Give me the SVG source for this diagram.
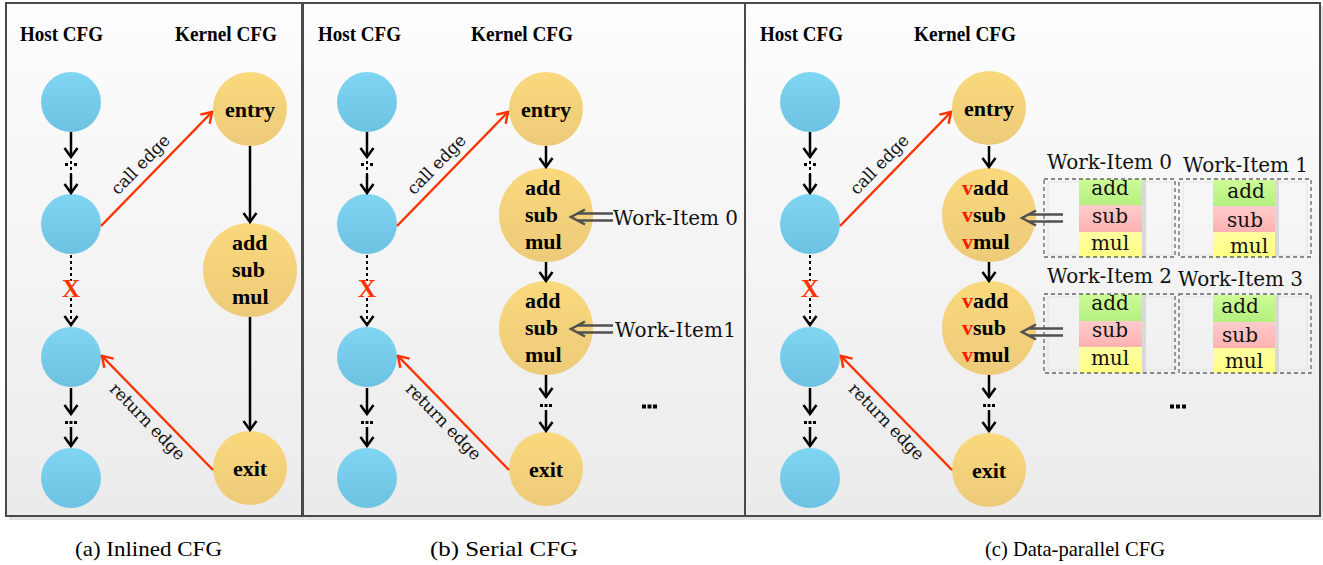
<svg xmlns="http://www.w3.org/2000/svg" width="1323" height="565" viewBox="0 0 1323 565">
  <defs>
    <linearGradient id="panelBg" x1="0" y1="0" x2="0" y2="1">
      <stop offset="0" stop-color="#fdfdfd"/>
      <stop offset="1" stop-color="#ebebeb"/>
    </linearGradient>
    <linearGradient id="hostFill" x1="0" y1="0" x2="0" y2="1">
      <stop offset="0" stop-color="#80d5f3"/>
      <stop offset="1" stop-color="#6dc2e2"/>
    </linearGradient>
    <linearGradient id="kernFill" x1="0" y1="0" x2="0" y2="1">
      <stop offset="0" stop-color="#fad97d"/>
      <stop offset="1" stop-color="#edca79"/>
    </linearGradient>
    <linearGradient id="gAdd" x1="0" y1="0" x2="0" y2="1">
      <stop offset="0" stop-color="#cdfc96"/>
      <stop offset="1" stop-color="#b5ef80"/>
    </linearGradient>
    <linearGradient id="gSub" x1="0" y1="0" x2="0" y2="1">
      <stop offset="0" stop-color="#ffcccc"/>
      <stop offset="1" stop-color="#ffb1b1"/>
    </linearGradient>
    <linearGradient id="gMul" x1="0" y1="0" x2="0" y2="1">
      <stop offset="0" stop-color="#ffffa2"/>
      <stop offset="1" stop-color="#ffff82"/>
    </linearGradient>
    <marker id="ah" viewBox="-12 -9 14 18" refX="0" refY="0" markerWidth="14" markerHeight="18" markerUnits="userSpaceOnUse" orient="auto">
      <path d="M-9,-6.5 L0,0 L-9,6.5" fill="none" stroke="#000" stroke-width="2.5"/>
    </marker>
    <marker id="ahRed" viewBox="-12 -9 14 18" refX="0" refY="0" markerWidth="14" markerHeight="18" markerUnits="userSpaceOnUse" orient="auto">
      <path d="M-10,-6.5 L0,0 L-10,6.5" fill="none" stroke="#ff3300" stroke-width="2.5"/>
    </marker>
  </defs>
  <style>
    .hd{font-family:"Liberation Serif","Times New Roman","DejaVu Serif",serif;font-weight:bold;font-size:21px;fill:#000}
    .nt{font-family:"Liberation Serif","Times New Roman","DejaVu Serif",serif;font-weight:bold;font-size:22px;fill:#000}
    .rg{font-family:"DejaVu Serif","Liberation Serif","Times New Roman",serif;font-size:20px;fill:#111}
    .lbl{font-family:"DejaVu Serif","Liberation Serif","Times New Roman",serif;font-size:17px;fill:#111}
    .cap{font-family:"Liberation Serif","Times New Roman","DejaVu Serif",serif;font-size:22px;fill:#000}
    .xm{font-family:"Liberation Serif","Times New Roman","DejaVu Serif",serif;font-weight:bold;font-size:25px;fill:#ff3300}
    .host{fill:url(#hostFill)}
    .kern{fill:url(#kernFill)}
    .panel{fill:url(#panelBg);stroke:#4a4a4a;stroke-width:2}
    .shadow{fill:#cfcfcf;opacity:.6}
    .flow{stroke:#000;stroke-width:2.5;fill:none}
    .dash{stroke:#000;stroke-width:2;stroke-dasharray:3 3;fill:none}
    .call{stroke:#ff3300;stroke-width:2.5;fill:none}
    .wi{stroke:#505050;stroke-width:2.5;fill:none}
    .box{fill:none;stroke:#666;stroke-width:1.3;stroke-dasharray:4 3}
    .inner{fill:none;stroke:#e2e2e2;stroke-width:1}
    .red{fill:#ff1a00}
    .dot{fill:#000}
    .bshadow{fill:#d9d9d9}
  </style>

  <!-- panel frames -->
  <g id="panels">
    <rect class="shadow" x="9" y="6" width="296" height="514"/>
    <rect class="shadow" x="306" y="6" width="442" height="514"/>
    <rect class="shadow" x="748" y="6" width="575" height="514"/>
    <rect class="panel" x="6" y="3" width="296" height="513"/>
    <rect class="panel" x="303" y="3" width="442" height="513"/>
    <rect class="panel" x="745" y="3" width="575" height="513"/>
  </g>

  <!-- column headings -->
  <g id="headings">
    <text class="hd" x="20" y="41" textLength="83" lengthAdjust="spacingAndGlyphs">Host CFG</text>
    <text class="hd" x="175" y="41" textLength="102" lengthAdjust="spacingAndGlyphs">Kernel CFG</text>
    <text class="hd" x="318" y="41" textLength="83" lengthAdjust="spacingAndGlyphs">Host CFG</text>
    <text class="hd" x="471" y="41" textLength="102" lengthAdjust="spacingAndGlyphs">Kernel CFG</text>
    <text class="hd" x="760" y="41" textLength="83" lengthAdjust="spacingAndGlyphs">Host CFG</text>
    <text class="hd" x="914" y="41" textLength="102" lengthAdjust="spacingAndGlyphs">Kernel CFG</text>
  </g>

  <!-- panel (a): inlined -->
  <g id="a-host-1"><circle class="host" cx="71" cy="102" r="30"/></g>
  <g id="a-host-2"><circle class="host" cx="71" cy="224" r="30"/></g>
  <g id="a-host-3"><circle class="host" cx="71" cy="357" r="30"/></g>
  <g id="a-host-4"><circle class="host" cx="71" cy="478" r="30"/></g>
  <g id="a-entry"><circle class="kern" cx="250" cy="109" r="37"/><text class="nt" x="250" y="117" text-anchor="middle">entry</text></g>
  <g id="a-body">
    <circle class="kern" cx="250" cy="270" r="47"/>
    <text class="nt" x="232" y="250">add</text>
    <text class="nt" x="232" y="277">sub</text>
    <text class="nt" x="232" y="304">mul</text>
  </g>
  <g id="a-exit"><circle class="kern" cx="250" cy="468" r="37"/><text class="nt" x="250" y="476" text-anchor="middle">exit</text></g>

  <!-- panel (b): serial -->
  <g id="b-host-1"><circle class="host" cx="367" cy="102" r="30"/></g>
  <g id="b-host-2"><circle class="host" cx="367" cy="224" r="30"/></g>
  <g id="b-host-3"><circle class="host" cx="367" cy="357" r="30"/></g>
  <g id="b-host-4"><circle class="host" cx="367" cy="478" r="30"/></g>
  <g id="b-entry"><circle class="kern" cx="546" cy="109" r="37"/><text class="nt" x="546" y="117" text-anchor="middle">entry</text></g>
  <g id="b-body-0">
    <circle class="kern" cx="546" cy="215" r="47"/>
    <text class="nt" x="525" y="195">add</text>
    <text class="nt" x="525" y="222">sub</text>
    <text class="nt" x="525" y="249">mul</text>
  </g>
  <g id="b-body-1">
    <circle class="kern" cx="546" cy="328" r="47"/>
    <text class="nt" x="525" y="308">add</text>
    <text class="nt" x="525" y="335">sub</text>
    <text class="nt" x="525" y="362">mul</text>
  </g>
  <g id="b-exit"><circle class="kern" cx="546" cy="469" r="37"/><text class="nt" x="546" y="477" text-anchor="middle">exit</text></g>
  <g id="b-workitems">
    <text class="rg" x="613" y="225" textLength="125">Work-Item 0</text>
    <text class="rg" x="615" y="337" textLength="121">Work-Item1</text>
    <rect class="dot" x="642" y="404.5" width="4" height="4"/><rect class="dot" x="647.5" y="404.5" width="4" height="4"/><rect class="dot" x="653" y="404.5" width="4" height="4"/>
  </g>

  <!-- panel (c): data-parallel -->
  <g id="c-host-1"><circle class="host" cx="810" cy="102" r="30"/></g>
  <g id="c-host-2"><circle class="host" cx="810" cy="224" r="30"/></g>
  <g id="c-host-3"><circle class="host" cx="810" cy="357" r="30"/></g>
  <g id="c-host-4"><circle class="host" cx="810" cy="478" r="30"/></g>
  <g id="c-entry"><circle class="kern" cx="989" cy="108" r="37"/><text class="nt" x="989" y="116" text-anchor="middle">entry</text></g>
  <g id="c-body-0">
    <circle class="kern" cx="989" cy="215" r="47"/>
    <text class="nt" x="962" y="195"><tspan class="red">v</tspan>add</text>
    <text class="nt" x="962" y="222"><tspan class="red">v</tspan>sub</text>
    <text class="nt" x="962" y="249"><tspan class="red">v</tspan>mul</text>
  </g>
  <g id="c-body-1">
    <circle class="kern" cx="989" cy="328" r="47"/>
    <text class="nt" x="962" y="308"><tspan class="red">v</tspan>add</text>
    <text class="nt" x="962" y="335"><tspan class="red">v</tspan>sub</text>
    <text class="nt" x="962" y="362"><tspan class="red">v</tspan>mul</text>
  </g>
  <g id="c-exit"><circle class="kern" cx="989" cy="470" r="37"/><text class="nt" x="989" y="478" text-anchor="middle">exit</text></g>

  <!-- work-item lanes -->
  <g id="wi-0">
    <text class="rg" x="1047" y="169" textLength="125">Work-Item 0</text>
    <rect class="inner" x="1048" y="182" width="124" height="73"/>
    <rect class="bshadow" x="1142" y="179" width="4" height="78"/>
    <rect x="1079" y="179" width="63" height="26" fill="url(#gAdd)"/>
    <rect x="1079" y="205" width="63" height="27" fill="url(#gSub)"/>
    <rect x="1079" y="232" width="63" height="25" fill="url(#gMul)"/>
    <text class="rg" x="1110" y="195" text-anchor="middle">add</text>
    <text class="rg" x="1110" y="223" text-anchor="middle">sub</text>
    <text class="rg" x="1110" y="250" text-anchor="middle">mul</text>
    <rect class="box" x="1044" y="179" width="131" height="78"/>
  </g>
  <g id="wi-1">
    <text class="rg" x="1183" y="172" textLength="125">Work-Item 1</text>
    <rect class="inner" x="1183" y="182" width="124" height="73"/>
    <rect class="bshadow" x="1275" y="180" width="4" height="77"/>
    <rect x="1213" y="180" width="62" height="26" fill="url(#gAdd)"/>
    <rect x="1213" y="206" width="62" height="26" fill="url(#gSub)"/>
    <rect x="1213" y="232" width="62" height="25" fill="url(#gMul)"/>
    <text class="rg" x="1246" y="198" text-anchor="middle">add</text>
    <text class="rg" x="1245" y="227" text-anchor="middle">sub</text>
    <text class="rg" x="1249" y="253" text-anchor="middle">mul</text>
    <rect class="box" x="1179" y="179" width="132" height="78"/>
  </g>
  <g id="wi-2">
    <text class="rg" x="1047" y="283" textLength="125">Work-Item 2</text>
    <rect class="inner" x="1048" y="297" width="124" height="73"/>
    <rect class="bshadow" x="1142" y="294" width="4" height="79"/>
    <rect x="1079" y="294" width="63" height="27" fill="url(#gAdd)"/>
    <rect x="1079" y="321" width="63" height="26" fill="url(#gSub)"/>
    <rect x="1079" y="347" width="63" height="26" fill="url(#gMul)"/>
    <text class="rg" x="1110" y="310" text-anchor="middle">add</text>
    <text class="rg" x="1110" y="337" text-anchor="middle">sub</text>
    <text class="rg" x="1110" y="365" text-anchor="middle">mul</text>
    <rect class="box" x="1044" y="294" width="131" height="79"/>
  </g>
  <g id="wi-3">
    <text class="rg" x="1178" y="286" textLength="125">Work-Item 3</text>
    <rect class="inner" x="1183" y="297" width="124" height="73"/>
    <rect class="bshadow" x="1275" y="295" width="4" height="78"/>
    <rect x="1213" y="295" width="62" height="27" fill="url(#gAdd)"/>
    <rect x="1213" y="322" width="62" height="26" fill="url(#gSub)"/>
    <rect x="1213" y="348" width="62" height="25" fill="url(#gMul)"/>
    <text class="rg" x="1240" y="313" text-anchor="middle">add</text>
    <text class="rg" x="1240" y="342" text-anchor="middle">sub</text>
    <text class="rg" x="1244" y="368" text-anchor="middle">mul</text>
    <rect class="box" x="1179" y="294" width="132" height="79"/>
  </g>
  <g id="c-more">
    <rect class="dot" x="1170" y="404.5" width="4" height="4"/><rect class="dot" x="1176" y="404.5" width="4" height="4"/><rect class="dot" x="1182" y="404.5" width="4" height="4"/>
  </g>

  <!-- connectors, drawn above the nodes -->
  <g id="connectors">
    <!-- host columns -->
    <g id="host-flow-a">
      <line class="flow" x1="71" y1="132" x2="71" y2="157" marker-end="url(#ah)"/>
      <line class="dash" x1="71" y1="161" x2="71" y2="174" stroke-width="3" stroke-dasharray="2.5 2.5"/>
      <rect class="dot" x="65" y="163" width="3" height="3"/><rect class="dot" x="74" y="163" width="3" height="3"/>
      <line class="flow" x1="71" y1="174" x2="71" y2="193" marker-end="url(#ah)"/>
      <line class="dash" x1="71" y1="255" x2="71" y2="281"/>
      <line class="dash" x1="71" y1="298" x2="71" y2="325" marker-end="url(#ah)"/>
      <line class="flow" x1="71" y1="388" x2="71" y2="414" marker-end="url(#ah)"/>
      <rect class="dot" x="65" y="421" width="3" height="3"/><rect class="dot" x="69.5" y="421" width="3" height="3"/><rect class="dot" x="74" y="421" width="3" height="3"/>
      <line class="flow" x1="71" y1="427" x2="71" y2="446" marker-end="url(#ah)"/>
    </g>
    <g id="host-flow-b">
      <line class="flow" x1="367" y1="132" x2="367" y2="157" marker-end="url(#ah)"/>
      <line class="dash" x1="367" y1="161" x2="367" y2="174" stroke-width="3" stroke-dasharray="2.5 2.5"/>
      <rect class="dot" x="361" y="163" width="3" height="3"/><rect class="dot" x="370" y="163" width="3" height="3"/>
      <line class="flow" x1="367" y1="174" x2="367" y2="193" marker-end="url(#ah)"/>
      <line class="dash" x1="367" y1="255" x2="367" y2="281"/>
      <line class="dash" x1="367" y1="298" x2="367" y2="325" marker-end="url(#ah)"/>
      <line class="flow" x1="367" y1="388" x2="367" y2="414" marker-end="url(#ah)"/>
      <rect class="dot" x="361" y="421" width="3" height="3"/><rect class="dot" x="365.5" y="421" width="3" height="3"/><rect class="dot" x="370" y="421" width="3" height="3"/>
      <line class="flow" x1="367" y1="427" x2="367" y2="446" marker-end="url(#ah)"/>
    </g>
    <g id="host-flow-c">
      <line class="flow" x1="810" y1="132" x2="810" y2="157" marker-end="url(#ah)"/>
      <line class="dash" x1="810" y1="161" x2="810" y2="174" stroke-width="3" stroke-dasharray="2.5 2.5"/>
      <rect class="dot" x="804" y="163" width="3" height="3"/><rect class="dot" x="813" y="163" width="3" height="3"/>
      <line class="flow" x1="810" y1="174" x2="810" y2="193" marker-end="url(#ah)"/>
      <line class="dash" x1="810" y1="255" x2="810" y2="281"/>
      <line class="dash" x1="810" y1="298" x2="810" y2="325" marker-end="url(#ah)"/>
      <line class="flow" x1="810" y1="388" x2="810" y2="414" marker-end="url(#ah)"/>
      <rect class="dot" x="804" y="421" width="3" height="3"/><rect class="dot" x="808.5" y="421" width="3" height="3"/><rect class="dot" x="813" y="421" width="3" height="3"/>
      <line class="flow" x1="810" y1="427" x2="810" y2="446" marker-end="url(#ah)"/>
    </g>
    <!-- broken host edges -->
    <text class="xm" x="71" y="297" text-anchor="middle">X</text>
    <text class="xm" x="367" y="297" text-anchor="middle">X</text>
    <text class="xm" x="810" y="297" text-anchor="middle">X</text>

    <!-- kernel columns -->
    <g id="kernel-flow-a">
      <line class="flow" x1="250" y1="146" x2="250" y2="222" marker-end="url(#ah)"/>
      <line class="flow" x1="250" y1="317" x2="250" y2="430" marker-end="url(#ah)"/>
    </g>
    <g id="kernel-flow-b">
      <line class="flow" x1="546" y1="146" x2="546" y2="167" marker-end="url(#ah)"/>
      <line class="flow" x1="546" y1="262" x2="546" y2="281" marker-end="url(#ah)"/>
      <line class="flow" x1="546" y1="375" x2="546" y2="397" marker-end="url(#ah)"/>
      <rect class="dot" x="540" y="404" width="3" height="3"/><rect class="dot" x="544.5" y="404" width="3" height="3"/><rect class="dot" x="549" y="404" width="3" height="3"/>
      <line class="flow" x1="546" y1="410" x2="546" y2="431" marker-end="url(#ah)"/>
    </g>
    <g id="kernel-flow-c">
      <line class="flow" x1="989" y1="146" x2="989" y2="167" marker-end="url(#ah)"/>
      <line class="flow" x1="989" y1="262" x2="989" y2="281" marker-end="url(#ah)"/>
      <line class="flow" x1="989" y1="375" x2="989" y2="397" marker-end="url(#ah)"/>
      <rect class="dot" x="983" y="404" width="3" height="3"/><rect class="dot" x="987.5" y="404" width="3" height="3"/><rect class="dot" x="992" y="404" width="3" height="3"/>
      <line class="flow" x1="989" y1="410" x2="989" y2="431" marker-end="url(#ah)"/>
    </g>

    <!-- call / return edges -->
    <line class="call" x1="101" y1="226" x2="212" y2="112" marker-end="url(#ahRed)"/>
    <line class="call" x1="213" y1="470" x2="102" y2="356" marker-end="url(#ahRed)"/>
    <line class="call" x1="397" y1="226" x2="508" y2="112" marker-end="url(#ahRed)"/>
    <line class="call" x1="509" y1="470" x2="398" y2="356" marker-end="url(#ahRed)"/>
    <line class="call" x1="840" y1="226" x2="951" y2="112" marker-end="url(#ahRed)"/>
    <line class="call" x1="952" y1="470" x2="841" y2="356" marker-end="url(#ahRed)"/>
    <text class="lbl" transform="translate(141,165) rotate(-45.8)" y="5" text-anchor="middle" textLength="76">call edge</text>
    <text class="lbl" transform="translate(147,422) rotate(45.8)" y="5" text-anchor="middle" textLength="100">return edge</text>
    <text class="lbl" transform="translate(437,165) rotate(-45.8)" y="5" text-anchor="middle" textLength="76">call edge</text>
    <text class="lbl" transform="translate(443,422) rotate(45.8)" y="5" text-anchor="middle" textLength="100">return edge</text>
    <text class="lbl" transform="translate(880,165) rotate(-45.8)" y="5" text-anchor="middle" textLength="76">call edge</text>
    <text class="lbl" transform="translate(886,422) rotate(45.8)" y="5" text-anchor="middle" textLength="100">return edge</text>

    <!-- work-item mapping arrows -->
    <path class="wi" d="M585,209.5 L571,217 L585,224.5 M577,213.5 H613 M577,220.5 H613"/>
    <path class="wi" d="M585,321.5 L571,329 L585,336.5 M577,325.5 H613 M577,332.5 H613"/>
    <path class="wi" d="M1036,210.5 L1022,218 L1036,225.5 M1028,214.5 H1063 M1028,221.5 H1063"/>
    <path class="wi" d="M1036,324.5 L1022,332 L1036,339.5 M1028,328.5 H1063 M1028,335.5 H1063"/>
  </g>

  <!-- captions -->
  <g id="captions">
    <text class="cap" x="75" y="556" textLength="147" lengthAdjust="spacingAndGlyphs">(a) Inlined CFG</text>
    <text class="cap" x="430" y="556" textLength="148" lengthAdjust="spacingAndGlyphs">(b) Serial CFG</text>
    <text class="cap" x="985" y="556" textLength="180" lengthAdjust="spacingAndGlyphs">(c) Data-parallel CFG</text>
  </g>
</svg>
